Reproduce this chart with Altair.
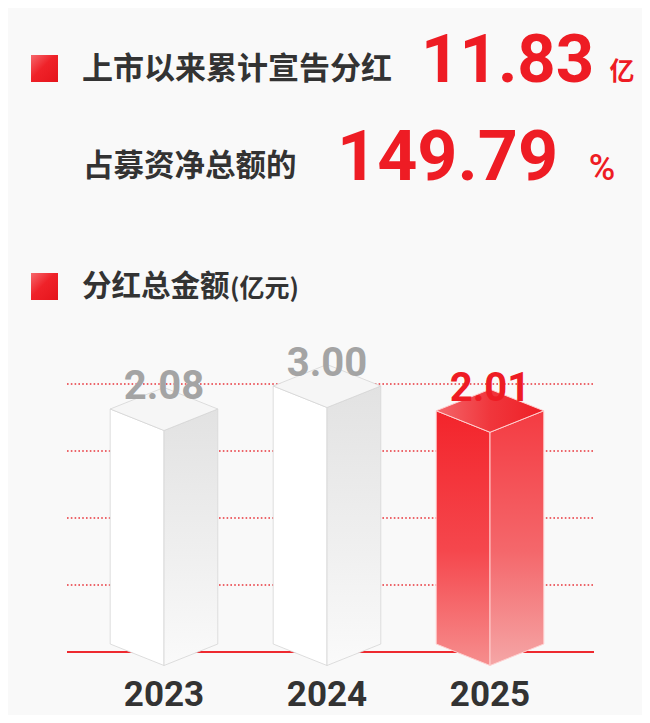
import altair as alt
import pandas as pd

# ---------------- data ----------------
YEARS = ["2023", "2024", "2025"]
DIVIDEND = [2.08, 3.00, 2.01]          # 分红总金额 (亿元)
VALUE_LABELS = ["2.08", "3.00", "2.01"]
HIGHLIGHT = [False, False, True]
GRID = [0, 1, 2, 3, 4]

TOTAL_DIVIDEND = "11.83"
RATIO = "149.79"

TITLE1 = "上市以来累计宣告分红"
TITLE2 = "占募资净总额的"
TITLE3 = "分红总金额"
UNIT3 = "(亿元)"

# ---------------- 3D bar geometry (derived from values) ----------------
HW = 0.33            # half width of a bar in x units
D = 0.86             # perspective depth in value units
SIDE_BOTTOM = -7.32
FRONT_BOTTOM = SIDE_BOTTOM - D

rows = []
for i, (yr, v, hl) in enumerate(zip(YEARS, DIVIDEND, HIGHLIGHT)):
    grp = "hi" if hl else "lo"
    faces = {
        "left": [(i - HW, v, SIDE_BOTTOM), (i, v - D, FRONT_BOTTOM)],
        "right": [(i, v - D, FRONT_BOTTOM), (i + HW, v, SIDE_BOTTOM)],
        "top": [(i - HW, v, v), (i, v + D, v - D), (i + HW, v, v)],
    }
    for face, pts in faces.items():
        for x, y, y2 in pts:
            rows.append(dict(year=yr, face=face, grp=grp, x=x, y=y, y2=y2,
                             fid=f"{yr}-{face}"))
faces_df = pd.DataFrame(rows)

bars_df = pd.DataFrame({
    "idx": list(range(len(YEARS))),
    "year": YEARS,
    "value": DIVIDEND,
    "label": VALUE_LABELS,
    "grp": ["hi" if h else "lo" for h in HIGHLIGHT],
})
grid_df = pd.DataFrame({"g": GRID})

# ---------------- scales ----------------
xs = alt.Scale(domain=[-0.5, 2.5], range=[74.5, 563.5], nice=False, zero=False)
ys = alt.Scale(domain=[-8.4, 4.0], range=[663, 353], nice=False, zero=False)
gs = alt.Scale(domain=[0, 4], range=[644, 376], nice=False, zero=False)

RED = "#ee1c24"
DARK = "#333333"
CJK = "Noto Sans CJK SC"
NUM = "Roboto"


def grad(stops, x2=0, y2=1):
    return alt.Gradient(
        gradient="linear",
        stops=[alt.GradientStop(color=c, offset=o) for o, c in stops],
        x1=0, y1=0, x2=x2, y2=y2,
    )


def face_layer(grp, face, fill, stroke, sw):
    return (
        alt.Chart(faces_df)
        .transform_filter(f"datum.grp == '{grp}' && datum.face == '{face}'")
        .mark_area(fill=fill, stroke=stroke, strokeWidth=sw, opacity=1,
                   fillOpacity=1, interpolate="linear")
        .encode(
            x=alt.X("x:Q", scale=xs, axis=None),
            y=alt.Y("y:Q", scale=ys, axis=None),
            y2="y2:Q",
            detail="fid:N",
        )
    )


# grid lines
dotted = (
    alt.Chart(grid_df)
    .transform_filter("datum.g > 0")
    .mark_rule(color="#e8343b", strokeWidth=1.6, strokeDash=[1.6, 2.2])
    .encode(y=alt.Y("g:Q", scale=gs, axis=None), x=alt.value(59), x2=alt.value(586))
)
baseline = (
    alt.Chart(grid_df)
    .transform_filter("datum.g == 0")
    .mark_rule(color="#ee2a30", strokeWidth=2)
    .encode(y=alt.Y("g:Q", scale=gs, axis=None), x=alt.value(59), x2=alt.value(586))
)

gray_stroke = "#d6d6d6"
red_stroke = "#ffd0d0"
faces = [
    face_layer("lo", "left", "#ffffff", gray_stroke, 0.8),
    face_layer("lo", "right", grad([(0, "#e2e2e2"), (0.6, "#f0f0f0"), (1, "#fafafa")]),
               gray_stroke, 0.8),
    face_layer("lo", "top", "#f6f6f6", gray_stroke, 0.8),
    face_layer("hi", "left", grad([(0, "#f3242b"), (0.55, "#f5474d"), (1, "#f68e8e")]),
               red_stroke, 1),
    face_layer("hi", "right", grad([(0, "#f43b42"), (0.55, "#f4676b"), (1, "#f5a6a6")]),
               red_stroke, 1),
    face_layer("hi", "top", grad([(0, "#f4676b"), (0.5, "#f0363c"), (1, "#ee1f26")], x2=1, y2=0),
               red_stroke, 1),
]

value_labels = (
    alt.Chart(bars_df)
    .mark_text(font=NUM, fontSize=40, fontWeight="bold", baseline="alphabetic",
               align="center", dy=-10)
    .encode(
        x=alt.X("idx:Q", scale=xs, axis=None),
        y=alt.Y("value:Q", scale=ys, axis=None),
        text="label:N",
        color=alt.Color("grp:N", scale=alt.Scale(domain=["lo", "hi"],
                                                 range=["#a4a4a4", RED]), legend=None),
    )
)

year_labels = (
    alt.Chart(bars_df)
    .mark_text(font=NUM, fontSize=35, fontWeight="bold", baseline="alphabetic",
               align="center", color=DARK)
    .encode(x=alt.X("idx:Q", scale=xs, axis=None), y=alt.value(698), text="year:N")
)

one = alt.Data(values=[{"k": 1}])


def txt(text, x, y, size, color, font, baseline="middle", align="left", weight="bold"):
    return (
        alt.Chart(one)
        .mark_text(text=text, font=font, fontSize=size, fontWeight=weight,
                   color=color, baseline=baseline, align=align)
        .encode(x=alt.value(x), y=alt.value(y))
    )


def square(y0):
    return (
        alt.Chart(one)
        .mark_rect(fill=grad([(0, "#f6686c"), (0.45, "#ef2229"), (1, "#e5141b")], x2=1, y2=1))
        .encode(x=alt.value(23), x2=alt.value(50), y=alt.value(y0), y2=alt.value(y0 + 27))
    )


header = [
    square(47),
    txt(TITLE1, 74, 62, 31, DARK, CJK),
    txt(TOTAL_DIVIDEND, 413, 74, 67, RED, NUM, baseline="alphabetic"),
    txt("亿", 614, 64, 25, RED, CJK, align="center"),
    txt(TITLE2, 75, 159, 30.5, DARK, CJK),
    txt(RATIO, 329, 172, 70, RED, NUM, baseline="alphabetic"),
    txt("%", 594, 172, 36, RED, NUM, align="center", baseline="alphabetic", weight=500),
    square(265),
    txt(TITLE3, 74, 279, 29.5, DARK, CJK),
    txt(UNIT3, 222, 281, 25, DARK, CJK),
]

chart = (
    alt.layer(dotted, baseline, *faces, value_labels, year_labels, *header)
    .resolve_scale(y="independent")
    .properties(width=634, height=707, padding=0, autosize="none",
                background="#f9f9f9")
    .configure_view(stroke=None)
)

chart.save("out.html", embed_options={"renderer": "svg", "actions": False})
